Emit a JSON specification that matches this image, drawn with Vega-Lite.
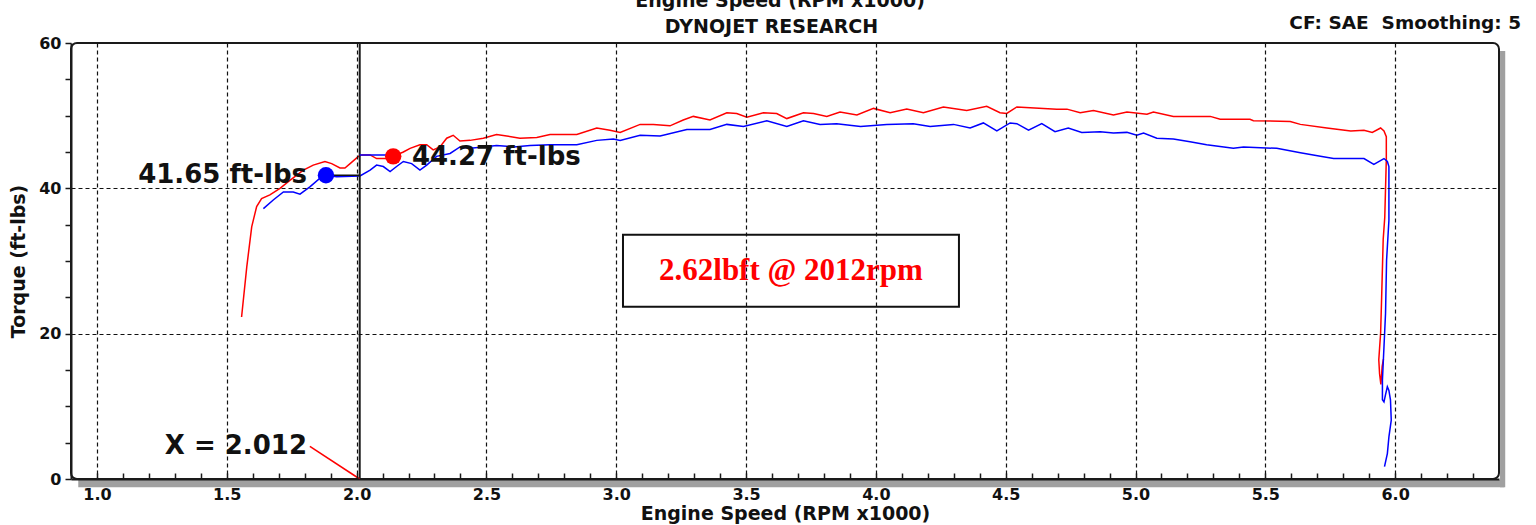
{
  "$schema": "https://vega.github.io/schema/vega-lite/v6.json",
  "width": 1428,
  "height": 436,
  "autosize": {"type": "none"},
  "padding": {"left": 71, "top": 43, "right": 37, "bottom": 46},
  "background": "white",
  "config": {
    "view": {"stroke": "#1a1a1a", "strokeWidth": 2, "cornerRadius": 6},
    "font": "DejaVu Sans"
  },
  "datasets": {
    "red": [
      {"i":1,"rpm":1.557,"tq":22.3},{"i":2,"rpm":1.577,"tq":29.2},{"i":3,"rpm":1.596,"tq":34.7},{"i":4,"rpm":1.615,"tq":37.5},
      {"i":5,"rpm":1.634,"tq":38.6},{"i":6,"rpm":1.666,"tq":39.1},{"i":7,"rpm":1.705,"tq":40.0},{"i":8,"rpm":1.743,"tq":41.1},
      {"i":9,"rpm":1.795,"tq":42.5},{"i":10,"rpm":1.833,"tq":43.2},{"i":11,"rpm":1.878,"tq":43.7},{"i":12,"rpm":1.904,"tq":43.4},
      {"i":13,"rpm":1.936,"tq":42.8},{"i":14,"rpm":1.955,"tq":42.8},{"i":15,"rpm":1.975,"tq":43.4},{"i":16,"rpm":2.007,"tq":44.4},
      {"i":17,"rpm":2.020,"tq":44.6},{"i":18,"rpm":2.052,"tq":44.6},{"i":19,"rpm":2.077,"tq":44.1},{"i":20,"rpm":2.116,"tq":44.1},
      {"i":21,"rpm":2.141,"tq":44.4},{"i":22,"rpm":2.180,"tq":45.0},{"i":23,"rpm":2.206,"tq":45.5},{"i":24,"rpm":2.244,"tq":46.0},
      {"i":25,"rpm":2.270,"tq":46.0},{"i":26,"rpm":2.295,"tq":45.3},{"i":27,"rpm":2.321,"tq":45.7},{"i":28,"rpm":2.347,"tq":46.9},
      {"i":29,"rpm":2.372,"tq":47.3},{"i":30,"rpm":2.398,"tq":46.5},{"i":31,"rpm":2.437,"tq":46.6},{"i":32,"rpm":2.488,"tq":46.9},
      {"i":33,"rpm":2.539,"tq":47.4},{"i":34,"rpm":2.578,"tq":47.2},{"i":35,"rpm":2.629,"tq":46.9},{"i":36,"rpm":2.694,"tq":47.0},
      {"i":37,"rpm":2.745,"tq":47.4},{"i":38,"rpm":2.848,"tq":47.4},{"i":39,"rpm":2.925,"tq":48.3},{"i":40,"rpm":2.976,"tq":48.0},
      {"i":41,"rpm":3.015,"tq":47.7},{"i":42,"rpm":3.092,"tq":48.8},{"i":43,"rpm":3.143,"tq":48.8},{"i":44,"rpm":3.207,"tq":48.6},
      {"i":45,"rpm":3.258,"tq":49.4},{"i":46,"rpm":3.297,"tq":49.9},{"i":47,"rpm":3.361,"tq":49.4},{"i":48,"rpm":3.426,"tq":50.4},
      {"i":49,"rpm":3.464,"tq":50.3},{"i":50,"rpm":3.503,"tq":49.8},{"i":51,"rpm":3.567,"tq":50.4},{"i":52,"rpm":3.618,"tq":50.3},
      {"i":53,"rpm":3.657,"tq":49.6},{"i":54,"rpm":3.721,"tq":50.4},{"i":55,"rpm":3.760,"tq":50.3},{"i":56,"rpm":3.811,"tq":49.9},
      {"i":57,"rpm":3.862,"tq":50.5},{"i":58,"rpm":3.927,"tq":50.1},{"i":59,"rpm":3.991,"tq":51.0},{"i":60,"rpm":4.055,"tq":50.4},
      {"i":61,"rpm":4.119,"tq":50.9},{"i":62,"rpm":4.183,"tq":50.4},{"i":63,"rpm":4.260,"tq":51.2},{"i":64,"rpm":4.350,"tq":50.7},
      {"i":65,"rpm":4.427,"tq":51.3},{"i":66,"rpm":4.478,"tq":50.4},{"i":67,"rpm":4.504,"tq":50.3},{"i":68,"rpm":4.543,"tq":51.2},
      {"i":69,"rpm":4.594,"tq":51.1},{"i":70,"rpm":4.697,"tq":50.9},{"i":71,"rpm":4.736,"tq":50.9},{"i":72,"rpm":4.787,"tq":50.4},
      {"i":73,"rpm":4.838,"tq":50.7},{"i":74,"rpm":4.915,"tq":50.1},{"i":75,"rpm":4.967,"tq":50.5},{"i":76,"rpm":5.044,"tq":50.2},
      {"i":77,"rpm":5.069,"tq":50.5},{"i":78,"rpm":5.146,"tq":49.9},{"i":79,"rpm":5.288,"tq":49.9},{"i":80,"rpm":5.326,"tq":49.5},
      {"i":81,"rpm":5.441,"tq":49.5},{"i":82,"rpm":5.454,"tq":49.3},{"i":83,"rpm":5.596,"tq":49.2},{"i":84,"rpm":5.635,"tq":48.8},
      {"i":85,"rpm":5.737,"tq":48.3},{"i":86,"rpm":5.829,"tq":47.9},{"i":87,"rpm":5.880,"tq":48.0},{"i":88,"rpm":5.912,"tq":47.7},
      {"i":89,"rpm":5.944,"tq":48.3},{"i":90,"rpm":5.957,"tq":47.9},{"i":91,"rpm":5.966,"tq":47.1},{"i":92,"rpm":5.966,"tq":44.0},
      {"i":93,"rpm":5.960,"tq":36.0},{"i":94,"rpm":5.954,"tq":33.0},{"i":95,"rpm":5.948,"tq":25.0},{"i":96,"rpm":5.944,"tq":20.0},
      {"i":97,"rpm":5.940,"tq":18.0},{"i":98,"rpm":5.937,"tq":16.4},{"i":99,"rpm":5.940,"tq":14.5},{"i":100,"rpm":5.945,"tq":13.0},
      {"i":101,"rpm":5.950,"tq":15.5},{"i":102,"rpm":5.955,"tq":16.5}
    ],
    "blue": [
      {"i":1,"rpm":1.641,"tq":37.2},{"i":2,"rpm":1.679,"tq":38.4},{"i":3,"rpm":1.718,"tq":39.5},{"i":4,"rpm":1.756,"tq":39.5},
      {"i":5,"rpm":1.782,"tq":39.2},{"i":6,"rpm":1.820,"tq":40.2},{"i":7,"rpm":1.859,"tq":41.4},{"i":8,"rpm":1.882,"tq":41.8},
      {"i":9,"rpm":1.923,"tq":41.6},{"i":10,"rpm":2.013,"tq":41.7},{"i":11,"rpm":2.052,"tq":42.5},{"i":12,"rpm":2.077,"tq":43.2},
      {"i":13,"rpm":2.103,"tq":43.0},{"i":14,"rpm":2.129,"tq":42.3},{"i":15,"rpm":2.154,"tq":43.0},{"i":16,"rpm":2.180,"tq":43.7},
      {"i":17,"rpm":2.212,"tq":43.4},{"i":18,"rpm":2.244,"tq":42.5},{"i":19,"rpm":2.270,"tq":43.2},{"i":20,"rpm":2.308,"tq":44.4},
      {"i":21,"rpm":2.360,"tq":44.8},{"i":22,"rpm":2.398,"tq":45.7},{"i":23,"rpm":2.437,"tq":45.5},{"i":24,"rpm":2.488,"tq":45.7},
      {"i":25,"rpm":2.539,"tq":45.9},{"i":26,"rpm":2.604,"tq":45.7},{"i":27,"rpm":2.668,"tq":45.9},{"i":28,"rpm":2.745,"tq":46.0},
      {"i":29,"rpm":2.848,"tq":46.0},{"i":30,"rpm":2.925,"tq":46.6},{"i":31,"rpm":2.989,"tq":46.8},{"i":32,"rpm":3.015,"tq":46.6},
      {"i":33,"rpm":3.092,"tq":47.3},{"i":34,"rpm":3.169,"tq":47.2},{"i":35,"rpm":3.272,"tq":48.1},{"i":36,"rpm":3.361,"tq":48.1},
      {"i":37,"rpm":3.426,"tq":48.8},{"i":38,"rpm":3.490,"tq":48.5},{"i":39,"rpm":3.580,"tq":49.3},{"i":40,"rpm":3.657,"tq":48.5},
      {"i":41,"rpm":3.721,"tq":49.3},{"i":42,"rpm":3.785,"tq":48.8},{"i":43,"rpm":3.849,"tq":48.9},{"i":44,"rpm":3.941,"tq":48.5},
      {"i":45,"rpm":4.042,"tq":48.8},{"i":46,"rpm":4.144,"tq":48.9},{"i":47,"rpm":4.209,"tq":48.5},{"i":48,"rpm":4.299,"tq":48.8},
      {"i":49,"rpm":4.363,"tq":48.3},{"i":50,"rpm":4.414,"tq":49.0},{"i":51,"rpm":4.466,"tq":47.9},{"i":52,"rpm":4.517,"tq":49.0},
      {"i":53,"rpm":4.543,"tq":48.9},{"i":54,"rpm":4.588,"tq":48.0},{"i":55,"rpm":4.639,"tq":48.9},{"i":56,"rpm":4.690,"tq":47.8},
      {"i":57,"rpm":4.741,"tq":48.3},{"i":58,"rpm":4.793,"tq":47.7},{"i":59,"rpm":4.864,"tq":47.8},{"i":60,"rpm":4.915,"tq":47.6},
      {"i":61,"rpm":4.967,"tq":47.7},{"i":62,"rpm":5.005,"tq":47.3},{"i":63,"rpm":5.031,"tq":47.6},{"i":64,"rpm":5.082,"tq":46.9},
      {"i":65,"rpm":5.146,"tq":46.8},{"i":66,"rpm":5.210,"tq":46.4},{"i":67,"rpm":5.274,"tq":46.0},{"i":68,"rpm":5.377,"tq":45.5},
      {"i":69,"rpm":5.416,"tq":45.7},{"i":70,"rpm":5.544,"tq":45.5},{"i":71,"rpm":5.635,"tq":44.9},{"i":72,"rpm":5.712,"tq":44.4},
      {"i":73,"rpm":5.763,"tq":44.1},{"i":74,"rpm":5.880,"tq":44.1},{"i":75,"rpm":5.918,"tq":43.3},{"i":76,"rpm":5.957,"tq":44.1},
      {"i":77,"rpm":5.970,"tq":43.7},{"i":78,"rpm":5.976,"tq":43.0},{"i":79,"rpm":5.976,"tq":35.6},{"i":80,"rpm":5.967,"tq":30.1},
      {"i":81,"rpm":5.963,"tq":22.8},{"i":82,"rpm":5.957,"tq":18.2},{"i":83,"rpm":5.951,"tq":13.6},{"i":84,"rpm":5.951,"tq":10.9},
      {"i":85,"rpm":5.957,"tq":10.6},{"i":86,"rpm":5.963,"tq":11.6},{"i":87,"rpm":5.970,"tq":12.7},{"i":88,"rpm":5.976,"tq":12.2},
      {"i":89,"rpm":5.982,"tq":10.9},{"i":90,"rpm":5.985,"tq":8.1},{"i":91,"rpm":5.976,"tq":5.8},{"i":92,"rpm":5.970,"tq":3.5},
      {"i":93,"rpm":5.959,"tq":1.7}
    ]
  },
  "layer": [
    {
      "data": {"values": [
        {"x1": 0.928, "x2": 6.42, "y1": -1.15, "y2": -0.14},
        {"x1": 6.404, "x2": 6.424, "y1": -1.15, "y2": 58.9}
      ]},
      "mark": {"type": "rect", "color": "#a0a0a0"},
      "encoding": {
        "x": {"field": "x1", "type": "quantitative", "scale": {"domain": [0.9, 6.4], "nice": false, "zero": false},
          "axis": {
            "title": "Engine Speed (RPM x1000)",
            "titleFont": "DejaVu Sans", "titleFontSize": 19, "titleFontWeight": "bold", "titleColor": "#111", "titlePadding": 2,
            "tickCount": 200,
            "values": [1,1.1,1.2,1.3,1.4,1.5,1.6,1.7,1.8,1.9,2,2.1,2.2,2.3,2.4,2.5,2.6,2.7,2.8,2.9,3,3.1,3.2,3.3,3.4,3.5,3.6,3.7,3.8,3.9,4,4.1,4.2,4.3,4.4,4.5,4.6,4.7,4.8,4.9,5,5.1,5.2,5.3,5.4,5.5,5.6,5.7,5.8,5.9,6,6.1,6.2,6.3],
            "labelExpr": "indexof([1,1.5,2,2.5,3,3.5,4,4.5,5,5.5,6], datum.value) >= 0 ? format(datum.value, '.1f') : ''",
            "labelFont": "DejaVu Sans", "labelFontSize": 16, "labelFontWeight": "bold", "labelColor": "#111",
            "labelPadding": 13, "labelFlush": false, "labelOverlap": false,
            "domainColor": "#1a1a1a", "domainWidth": 2,
            "tickColor": "#1a1a1a", "tickWidth": 1.5, "tickSize": -6,
            "grid": true, "gridColor": "#111", "gridDash": [4, 3], "gridWidth": 1.2,
            "gridOpacity": {"condition": {"test": "indexof([1,1.5,2,2.5,3,3.5,4,4.5,5,5.5,6], datum.value) >= 0", "value": 1}, "value": 0},
            "zindex": 1
          }},
        "x2": {"field": "x2"},
        "y": {"field": "y1", "type": "quantitative", "scale": {"domain": [0, 60], "nice": false},
          "axis": {
            "title": "Torque (ft-lbs)",
            "titleFont": "DejaVu Sans", "titleFontSize": 19, "titleFontWeight": "bold", "titleColor": "#111", "titlePadding": 10,
            "tickCount": 100,
            "values": [0,5,10,15,20,25,30,35,40,45,50,55,60],
            "labelExpr": "datum.value % 20 == 0 ? datum.value : ''",
            "labelFont": "DejaVu Sans", "labelFontSize": 16, "labelFontWeight": "bold", "labelColor": "#111",
            "labelPadding": 4, "labelFlush": false, "labelOverlap": false,
            "domainColor": "#1a1a1a", "domainWidth": 2,
            "tickColor": "#1a1a1a", "tickWidth": 1.5, "tickSize": 6,
            "grid": true, "gridColor": "#111", "gridDash": [4, 3], "gridWidth": 1.2,
            "gridOpacity": {"condition": {"test": "datum.value == 20 || datum.value == 40", "value": 1}, "value": 0},
            "zindex": 1
          }},
        "y2": {"field": "y2"}
      }
    },
    {
      "data": {"values": [{"x1": 3.026, "x2": 4.320, "y1": 23.7, "y2": 33.6}]},
      "mark": {"type": "rect", "fill": "white", "stroke": "#111", "strokeWidth": 2},
      "encoding": {
        "x": {"field": "x1", "type": "quantitative"}, "x2": {"field": "x2"},
        "y": {"field": "y1", "type": "quantitative"}, "y2": {"field": "y2"}
      }
    },
    {
      "data": {"values": [{"label": "2.62lbft @ 2012rpm", "rpm": 3.673, "tq": 28.65}]},
      "mark": {"type": "text", "font": "Liberation Serif", "fontSize": 31, "fontWeight": "bold", "color": "#ff0000", "align": "center", "baseline": "middle"},
      "encoding": {"x": {"field": "rpm", "type": "quantitative"}, "y": {"field": "tq", "type": "quantitative"}, "text": {"field": "label"}}
    },
    {
      "data": {"name": "red"},
      "mark": {"type": "line", "color": "#ff0000", "strokeWidth": 1.5, "interpolate": "linear"},
      "encoding": {"x": {"field": "rpm", "type": "quantitative"}, "y": {"field": "tq", "type": "quantitative"}, "order": {"field": "i"}}
    },
    {
      "data": {"name": "blue"},
      "mark": {"type": "line", "color": "#0000ff", "strokeWidth": 1.5, "interpolate": "linear"},
      "encoding": {"x": {"field": "rpm", "type": "quantitative"}, "y": {"field": "tq", "type": "quantitative"}, "order": {"field": "i"}}
    },
    {
      "data": {"values": [{"rpm": 2.012, "lo": 0, "hi": 60}]},
      "mark": {"type": "rule", "color": "#1a1a1a", "strokeWidth": 2},
      "encoding": {"x": {"field": "rpm", "type": "quantitative"}, "y": {"field": "lo", "type": "quantitative"}, "y2": {"field": "hi"}}
    },
    {
      "data": {"values": [
        {"x1": 1.882, "x2": 2.012, "y1": 41.8, "y2": 41.8, "c": "k"},
        {"x1": 2.012, "x2": 2.141, "y1": 44.6, "y2": 44.6, "c": "b"},
        {"x1": 1.82, "x2": 2.012, "y1": 4.5, "y2": 0, "c": "r"}
      ]},
      "mark": {"type": "rule", "strokeWidth": 1.5},
      "encoding": {
        "x": {"field": "x1", "type": "quantitative"}, "x2": {"field": "x2"},
        "y": {"field": "y1", "type": "quantitative"}, "y2": {"field": "y2"},
        "color": {"field": "c", "type": "nominal", "scale": {"domain": ["k", "b", "r"], "range": ["#111111", "#0000ff", "#ff0000"]}, "legend": null}
      }
    },
    {
      "data": {"values": [
        {"rpm": 1.882, "tq": 41.8, "c": "b"},
        {"rpm": 2.141, "tq": 44.4, "c": "r"}
      ]},
      "mark": {"type": "circle", "size": 270, "opacity": 1},
      "encoding": {
        "x": {"field": "rpm", "type": "quantitative"}, "y": {"field": "tq", "type": "quantitative"},
        "color": {"field": "c", "type": "nominal", "scale": {"domain": ["k", "b", "r"], "range": ["#111111", "#0000ff", "#ff0000"]}, "legend": null}
      }
    },
    {
      "data": {"values": [
        {"label": "41.65 ft-lbs", "rpm": 1.809, "tq": 41.8},
        {"label": "X = 2.012", "rpm": 1.809, "tq": 4.5}
      ]},
      "mark": {"type": "text", "font": "DejaVu Sans", "fontSize": 26, "fontWeight": "bold", "color": "#111", "align": "right", "baseline": "middle"},
      "encoding": {"x": {"field": "rpm", "type": "quantitative"}, "y": {"field": "tq", "type": "quantitative"}, "text": {"field": "label"}}
    },
    {
      "data": {"values": [{"label": "44.27 ft-lbs", "rpm": 2.213, "tq": 44.3}]},
      "mark": {"type": "text", "font": "DejaVu Sans", "fontSize": 26, "fontWeight": "bold", "color": "#111", "align": "left", "baseline": "middle"},
      "encoding": {"x": {"field": "rpm", "type": "quantitative"}, "y": {"field": "tq", "type": "quantitative"}, "text": {"field": "label"}}
    },
    {
      "data": {"values": [
        {"label": "Engine Speed (RPM x1000)", "rpm": 3.631, "tq": 65.0},
        {"label": "DYNOJET RESEARCH", "rpm": 3.598, "tq": 61.37}
      ]},
      "mark": {"type": "text", "font": "DejaVu Sans", "fontSize": 19, "fontWeight": "bold", "color": "#111", "align": "center", "baseline": "alphabetic"},
      "encoding": {"x": {"field": "rpm", "type": "quantitative"}, "y": {"field": "tq", "type": "quantitative"}, "text": {"field": "label"}}
    },
    {
      "data": {"values": [{"label": "CF: SAE\u00a0 Smoothing: 5", "rpm": 6.485, "tq": 61.9}]},
      "mark": {"type": "text", "font": "DejaVu Sans", "fontSize": 18.5, "fontWeight": "bold", "color": "#111", "align": "right", "baseline": "alphabetic"},
      "encoding": {"x": {"field": "rpm", "type": "quantitative"}, "y": {"field": "tq", "type": "quantitative"}, "text": {"field": "label"}}
    }
  ]
}
